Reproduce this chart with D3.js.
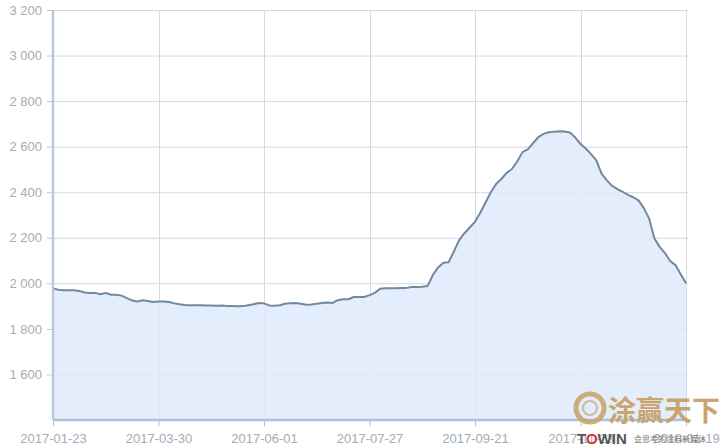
<!DOCTYPE html>
<html><head><meta charset="utf-8">
<script src="https://cdn.jsdelivr.net/npm/d3@7"></script>
<style>
body{margin:0;background:#fff;}
svg{display:block;font-family:"Liberation Sans",Arial,sans-serif;}
</style></head>
<body><svg id="c" width="726" height="447"></svg>
<script>
// Trading-day series sampled every 2 trading days
const values = [1978,1972,1970,1970,1970,1966,1960,1958,1958,1952,1958,1950,1950,1946,1935,1925,1920,1926,1922,1918,
1920,1920,1918,1912,1908,1905,1904,1904,1904,1903,1903,1902,1903,1901,1900,1899,1900,1904,1908,1914,
1912,1903,1902,1904,1910,1913,1914,1910,1906,1907,1910,1914,1916,1914,1926,1930,1930,1940,1940,1940,
1948,1958,1976,1978,1978,1978,1980,1980,1984,1984,1985,1988,2036,2070,2090,2093,2140,2190,2220,2245,
2270,2310,2355,2400,2436,2458,2485,2502,2535,2576,2588,2615,2642,2656,2663,2666,2668,2667,2662,2640,
2612,2592,2567,2540,2482,2452,2428,2414,2402,2388,2378,2364,2330,2285,2198,2160,2133,2098,2080,2040,2000];
const xTickLabels = ["2017-01-23","2017-03-30","2017-06-01","2017-07-27","2017-09-21","2017-11-23","2018-01-19"];
const yTicks = [1600,1800,2000,2200,2400,2600,2800,3000,3200];
const yDomain = [1400,3200];

const svg = d3.select("#c");
const L=53, R=686, T=10, B=420;
const x = d3.scaleLinear().domain([0, values.length-1]).range([L,R]);
const y = d3.scaleLinear().domain(yDomain).range([B,T]);
const tickIdx = xTickLabels.map((d,i)=> i*(values.length-1)/(xTickLabels.length-1));
const fmt = v => d3.format(",")(v).replace(",", " ");

// grid
svg.append("g").selectAll("line").data(yTicks).join("line")
  .attr("x1",L).attr("x2",R+2).attr("y1",d=>y(d)+0.5).attr("y2",d=>y(d)+0.5)
  .attr("stroke","#d3d9e0").attr("stroke-width",1);
svg.append("g").selectAll("line").data(tickIdx).join("line")
  .attr("x1",d=>Math.round(x(d))+0.5).attr("x2",d=>Math.round(x(d))+0.5).attr("y1",T).attr("y2",B)
  .attr("stroke","#d3d9e0").attr("stroke-width",1);

// area
const area = d3.area().x((d,i)=>x(i)).y0(B).y1(d=>y(d));
svg.append("path").datum(values).attr("d",area).attr("fill","#deeafa").attr("fill-opacity",0.85);
const line = d3.line().x((d,i)=>x(i)).y(d=>y(d));
svg.append("path").datum(values).attr("d",line).attr("fill","none")
  .attr("stroke","#71899f").attr("stroke-width",2).attr("stroke-linejoin","round");

// y axis
const ya = svg.append("g").attr("transform",`translate(${L},0)`)
  .call(d3.axisLeft(y).tickValues(yTicks).tickFormat(fmt).tickSize(6).tickPadding(5));
ya.select(".domain").attr("stroke","#b7c9da").attr("stroke-width",2.5).attr("d",`M0,${T}V${B}`);
ya.selectAll(".tick line").attr("stroke","#b7c9da");
ya.selectAll("text").attr("fill","#a3acb6").attr("font-size",13);

// x axis
const xa = svg.append("g").attr("transform",`translate(0,${B})`)
  .call(d3.axisBottom(x).tickValues(tickIdx).tickFormat((d,i)=>xTickLabels[i]).tickSize(6).tickPadding(8));
xa.select(".domain").attr("stroke","#a9c2d9").attr("stroke-width",2.5).attr("d",`M${L},0H${R+2}`);
xa.selectAll(".tick line").attr("stroke","#a9c2d9");
xa.selectAll("text").attr("fill","#a3acb6").attr("font-size",13);

// watermark
const wm = svg.append("g");
wm.append("circle").attr("cx",590).attr("cy",408).attr("r",14).attr("fill","none").attr("stroke","#c9a46c").attr("stroke-width",5).attr("opacity",0.9);
wm.append("circle").attr("cx",590).attr("cy",408).attr("r",7).attr("fill","none").attr("stroke","#c9a46c").attr("stroke-width",2).attr("opacity",0.7);
wm.append("text").attr("x",608).attr("y",421).attr("font-size",28).attr("fill","#c9a46c")
  .attr("font-family","Noto Sans CJK SC").attr("font-weight","bold").text("涂赢天下");
const tw = wm.append("text").attr("x",577).attr("y",444).attr("font-size",15).attr("font-weight","bold").attr("fill","#555");
tw.append("tspan").text("T");
tw.append("tspan").attr("fill","#d9343a").text("O");
tw.append("tspan").text("WIN");
wm.append("text").attr("x",634).attr("y",442).attr("font-size",8).attr("fill","#777")
  .attr("font-family","Noto Sans CJK SC").text("会思考的涂料新媒体");
</script></body></html>
